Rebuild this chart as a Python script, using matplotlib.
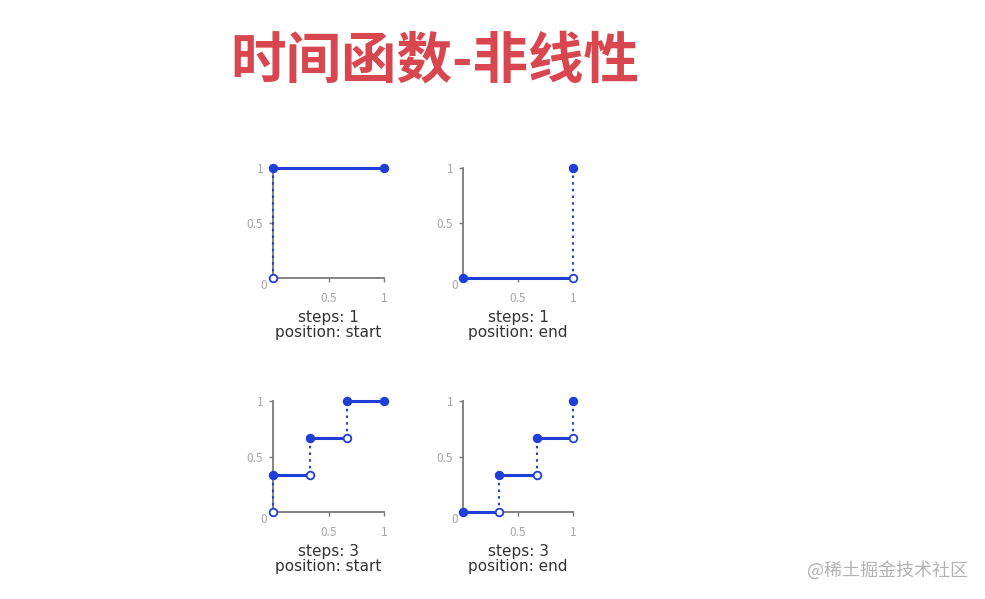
import matplotlib
matplotlib.use("Agg")
import matplotlib.pyplot as plt

plt.rcParams['font.family'] = ['Noto Sans CJK SC', 'DejaVu Sans']

title = "时间函数-非线性"
watermark = "@稀土掘金技术社区"

# panel data: steps, position, x breakpoints, level of each step
panel_steps = [1, 1, 3, 3]
panel_pos = ["start", "end", "start", "end"]
x_breaks_1 = [0.0, 1.0]
x_breaks_3 = [0.0, 0.33, 0.67, 1.0]
levels_start_1 = [1.0]
levels_end_1 = [0.0]
levels_start_3 = [0.33, 0.67, 1.0]
levels_end_3 = [0.0, 0.33, 0.67]

panel_breaks = [x_breaks_1, x_breaks_1, x_breaks_3, x_breaks_3]
panel_levels = [levels_start_1, levels_end_1, levels_start_3, levels_end_3]

blue = "#1f3fd8"
grey = "#7a7a7a"

fig = plt.figure(figsize=(9.85, 5.99), dpi=100)
fig.patch.set_facecolor("white")

fig.text(0.4416, 0.898, title, fontsize=40, fontweight="bold", color="#d8464f",
         ha="center", va="center")
fig.text(0.9015, 0.048, watermark, fontsize=13, color="#b3b3b3", ha="center", va="center")

rects = [
    [0.2772, 0.5359, 0.1127, 0.1836],
    [0.4701, 0.5359, 0.1117, 0.1836],
    [0.2772, 0.1452, 0.1127, 0.1853],
    [0.4701, 0.1452, 0.1117, 0.1853],
]


def dot(ax, x, y, filled):
    ax.plot([x], [y], marker="o", markersize=5.5, markeredgewidth=1.3,
            markerfacecolor=blue if filled else "white", markeredgecolor=blue,
            clip_on=False, zorder=5)


def vline(ax, x, y0, y1):
    ax.plot([x, x], [y0, y1], linestyle=(0, (1.2, 2.0)), color=blue, lw=1.5,
            clip_on=False, zorder=3)


for rect, steps, pos, xb, lv in zip(rects, panel_steps, panel_pos, panel_breaks, panel_levels):
    ax = fig.add_axes(rect)
    ax.set_xlim(0, 1)
    ax.set_ylim(0, 1)
    for s in ["top", "right"]:
        ax.spines[s].set_visible(False)
    for s in ["left", "bottom"]:
        ax.spines[s].set_color(grey)
        ax.spines[s].set_linewidth(1.3)
    ax.set_xticks([0.5, 1])
    ax.set_xticklabels(["0.5", "1"])
    ax.set_yticks([0.5, 1])
    ax.set_yticklabels(["0.5", "1"])
    ax.tick_params(length=3, width=1, color=grey, labelsize=8.5, labelcolor="#a6a6a6", pad=4)
    ax.tick_params(axis="x", pad=7)
    ax.text(-0.08, -0.07, "0", fontsize=8.5, color="#a6a6a6", ha="center", va="center",
            transform=ax.transAxes)
    ax.set_facecolor("none")

    n = len(lv)
    if pos == "start":
        vline(ax, xb[0], 0, lv[0])
        dot(ax, xb[0], 0, False)
        for i in range(n):
            ax.plot([xb[i], xb[i + 1]], [lv[i], lv[i]], color=blue, lw=2.2,
                    clip_on=False, zorder=4)
            dot(ax, xb[i], lv[i], True)
            last = i == n - 1
            if not last:
                vline(ax, xb[i + 1], lv[i], lv[i + 1])
            dot(ax, xb[i + 1], lv[i], last)
    else:
        for i in range(n):
            ax.plot([xb[i], xb[i + 1]], [lv[i], lv[i]], color=blue, lw=2.2,
                    clip_on=False, zorder=4)
            nxt = lv[i + 1] if i < n - 1 else 1.0
            vline(ax, xb[i + 1], lv[i], nxt)
            dot(ax, xb[i], lv[i], True)
            dot(ax, xb[i + 1], lv[i], False)
        dot(ax, xb[-1], 1.0, True)

    ax.annotate(f"steps: {steps}\nposition: {pos}", xy=(0.5, 0), xycoords="axes fraction",
                xytext=(0, -23), textcoords="offset points", ha="center", va="top",
                fontsize=11, color="#333333", linespacing=1.0, family=["DejaVu Sans"])

fig.savefig("out.png", dpi=100, facecolor="white")
